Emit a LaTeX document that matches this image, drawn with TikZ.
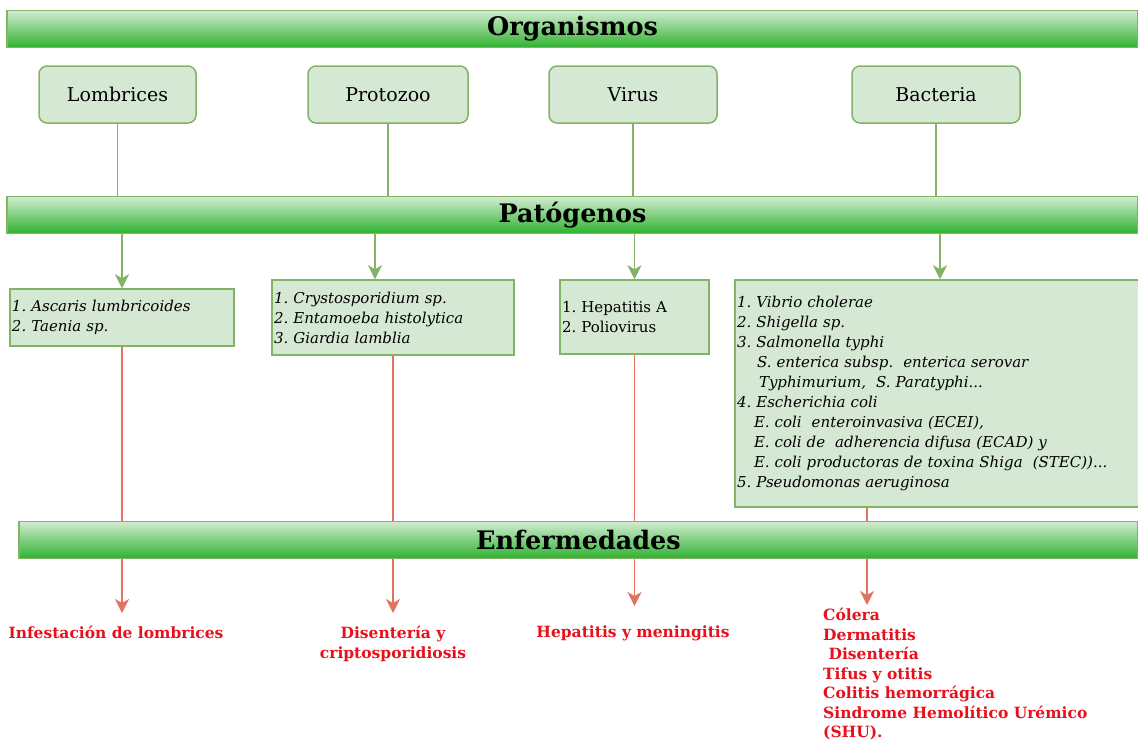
\documentclass[tikz,border=0pt]{standalone}
\usepackage{fontspec}
\setmainfont{DejaVu Serif}
\usetikzlibrary{arrows.meta}
\definecolor{boxfill}{HTML}{D5E8D4}
\definecolor{boxline}{HTML}{82B366}
\definecolor{bantop}{HTML}{D2ECD2}
\definecolor{banmid}{HTML}{6CC86C}
\definecolor{banbot}{HTML}{2EB22E}
\definecolor{redline}{HTML}{E0745E}
\definecolor{redtext}{HTML}{E8101A}
\frenchspacing
\begin{document}
\begin{tikzpicture}[x=1pt,y=-1pt,
  banner/.style={draw=boxline,line width=1.5pt,top color=bantop,middle color=banmid,bottom color=banbot,
    minimum height=37pt,inner sep=0pt,font=\fontsize{25.5}{30}\selectfont\bfseries},
  orgbox/.style={draw=boxline,fill=boxfill,line width=1.5pt,rounded corners=8pt,
    minimum height=57pt,font=\fontsize{19}{23}\selectfont},
  patbox/.style={draw=boxline,fill=boxfill,line width=1.5pt,inner xsep=2pt,inner ysep=0pt,
    align=left,font=\fontsize{15}{20}\selectfont},
  enfer/.style={text=redtext,inner sep=0pt,font=\fontsize{15.5}{20}\selectfont\bfseries},
  gline/.style={draw=boxline,line width=1.6pt},
  garrow/.style={gline,-{Stealth[length=14pt,width=14pt,inset=4pt]}},
  rline/.style={draw=redline,line width=1.6pt},
  rarrow/.style={rline,-{Stealth[length=14pt,width=14pt,inset=4pt]}}]
\useasboundingbox (0,0) rectangle (1138,742);

\node[banner,minimum width=1131pt] (org) at (572.5,29) {Organismos};
\node[orgbox,minimum width=157pt] (lomb) at (117.5,94.5) {Lombrices};
\node[orgbox,minimum width=160pt] (prot) at (388,94.5) {Protozoo};
\node[orgbox,minimum width=168pt] (vir) at (633,94.5) {Virus};
\node[orgbox,minimum width=168pt] (bact) at (936,94.5) {Bacteria};

\node[banner,minimum width=1131pt] (pat) at (572.5,215) {Patógenos};

\node[patbox,minimum width=224pt,text width=220pt,minimum height=57pt] (pl) at (122,317.5)
  {\itshape 1. Ascaris lumbricoides\\ 2. Taenia sp.};
\node[patbox,minimum width=242pt,text width=238pt,minimum height=75pt] (pp) at (393,317.5)
  {\itshape 1. Crystosporidium sp.\\ 2. Entamoeba histolytica\\ 3. Giardia lamblia};
\node[patbox,minimum width=149pt,text width=145pt,minimum height=74pt] (pv) at (634.5,317)
  {1. Hepatitis A\\ 2. Poliovirus};
\node[patbox,minimum width=410pt,text width=406pt,minimum height=227pt] (pb) at (940,393.5)
  {\itshape 1. Vibrio cholerae\\ 2. Shigella sp.\\ 3. Salmonella typhi\\
  \hspace*{20pt}S. enterica subsp.\ \ enterica serovar\\
  \hspace*{22pt}Typhimurium,\ \ S. Paratyphi...\\
  4. Escherichia coli\\
  \hspace*{17pt}E. coli\ \ enteroinvasiva (ECEI),\\
  \hspace*{17pt}E. coli de\ \ adherencia difusa (ECAD) y\\
  \hspace*{17pt}E. coli productoras de toxina Shiga\ \ (STEC))...\\
  5. Pseudomonas aeruginosa};

\node[banner,minimum width=1119pt] (enf) at (578.5,540) {Enfermedades};

\node[enfer,anchor=north] (dl) at (116,626) {Infestación de lombrices};
\node[enfer,anchor=north,align=center] (dp) at (393,626) {Disentería y\\ criptosporidiosis};
\node[enfer,anchor=north] (dv) at (633,626) {Hepatitis y meningitis};
\node[enfer,anchor=north west,align=left,font=\fontsize{15.5}{19.5}\selectfont\bfseries] (db) at (823,608)
  {Cólera\\ Dermatitis\\ \ Disentería\\ Tifus y otitis\\ Colitis hemorrágica\\
  Sindrome Hemolítico Urémico\\ (SHU).};

\coordinate (gp) at (375,0);
\coordinate (rb) at (867,0);

\draw[gline] (lomb) -- (lomb |- pat.north);
\draw[gline] (prot) -- (prot |- pat.north);
\draw[gline] (vir) -- (vir |- pat.north);
\draw[gline] (bact) -- (bact |- pat.north);

\draw[garrow] (pl |- pat.south) -- (pl.north);
\draw[garrow] (gp |- pat.south) -- (gp |- pp.north);
\draw[garrow] (pv |- pat.south) -- (pv.north);
\draw[garrow] (pb |- pat.south) -- (pb.north);

\draw[rline] (pl) -- (pl |- enf.north);
\draw[rline] (pp) -- (pp |- enf.north);
\draw[rline] (pv) -- (pv |- enf.north);
\draw[rline] (rb |- pb.south) -- (rb |- enf.north);

\draw[rarrow] (pl |- enf.south) -- (pl |- 0,613);
\draw[rarrow] (pp |- enf.south) -- (pp |- 0,613);
\draw[rarrow] (pv |- enf.south) -- (pv |- 0,606);
\draw[rarrow] (rb |- enf.south) -- (rb |- 0,605);
\end{tikzpicture}
\end{document}
